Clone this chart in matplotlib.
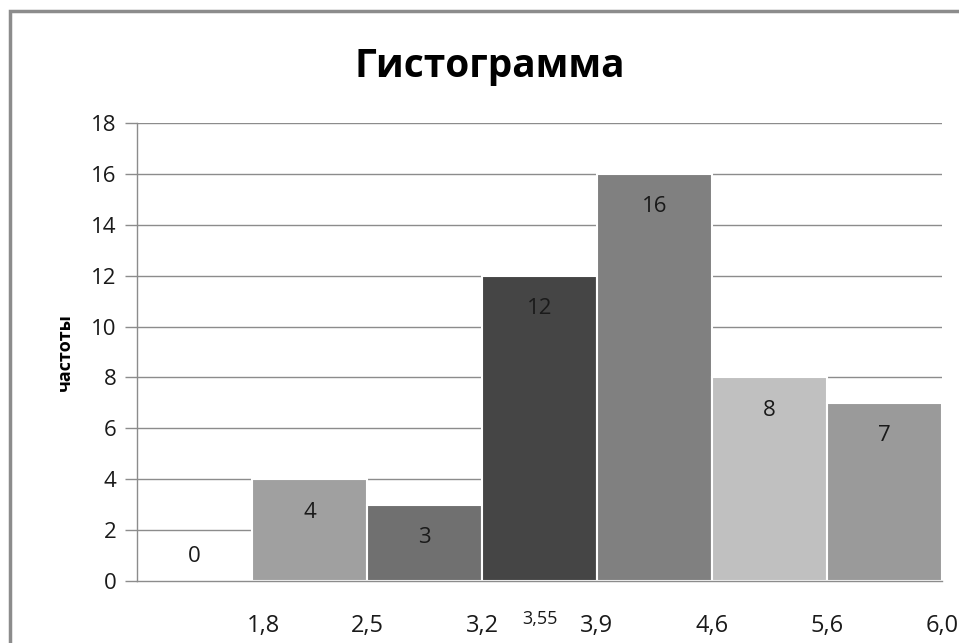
import matplotlib
matplotlib.use("Agg")
import matplotlib.pyplot as plt
from matplotlib.patches import Rectangle

# histogram data
freqs = [0, 4, 3, 12, 16, 8, 7]
bar_colors = ["#ffffff", "#a0a0a0", "#707070", "#454545", "#808080", "#c0c0c0", "#9a9a9a"]
edge_labels = ["1,8", "2,5", "3,2", "3,9", "4,6", "5,6", "6,0"]
mid_label = "3,55"
yticks = list(range(0, 19, 2))

plt.rcParams["font.family"] = ["Open Sans", "DejaVu Sans"]

fig = plt.figure(figsize=(9.59, 6.43), dpi=100)
ax = fig.add_axes([137 / 959, 1 - 581 / 643, 805 / 959, 458 / 643])

x = list(range(len(freqs)))
ax.bar(x, freqs, width=1.0, color=bar_colors, edgecolor="white",
       linewidth=1.5, zorder=3)

# value labels just under the bar tops
for xi, v in zip(x, freqs):
    ypos = v - 1.3 if v > 0 else 0.95
    ax.text(xi, ypos, str(v), ha="center", va="center", fontsize=16,
            color="#1a1a1a", zorder=4)

ax.set_xlim(-0.5, len(freqs) - 0.5)
ax.set_ylim(0, 18)
ax.set_yticks(yticks)
ax.set_yticklabels([str(t) for t in yticks], fontsize=16, color="#1a1a1a")
ax.tick_params(axis="y", length=9, width=1, color="#8c8c8c", pad=6)
ax.set_xticks([])
ax.grid(axis="y", color="#8c8c8c", linewidth=1, zorder=0)
ax.set_axisbelow(True)

for s in ["top", "right"]:
    ax.spines[s].set_visible(False)
for s in ["left", "bottom"]:
    ax.spines[s].set_color("#8c8c8c")
    ax.spines[s].set_linewidth(1)
    ax.spines[s].set_zorder(5)

# x labels sit at the bar boundaries
for i, lab in enumerate(edge_labels):
    xpos = i + 0.5 if i > 0 else 0.6
    ax.text(xpos, -1.75, lab, ha="center", va="center", fontsize=17,
            color="#1a1a1a", clip_on=False)
ax.text(3.0, -1.5, mid_label, ha="center", va="center", fontsize=13,
        color="#1a1a1a", clip_on=False)

ax.set_ylabel("частоты", fontsize=13, fontweight="bold", labelpad=12)
fig.text(490 / 959, 1 - 66 / 643, "Гистограмма", ha="center", va="center",
         fontsize=28, fontweight="bold")

# outer chart frame
fig.patches.append(Rectangle((10 / 959, -0.1), 1.1, 1.1 - 11 / 643,
                             transform=fig.transFigure, fill=False,
                             edgecolor="#8c8c8c", linewidth=2.5))

fig.savefig("out.png", dpi=100)
